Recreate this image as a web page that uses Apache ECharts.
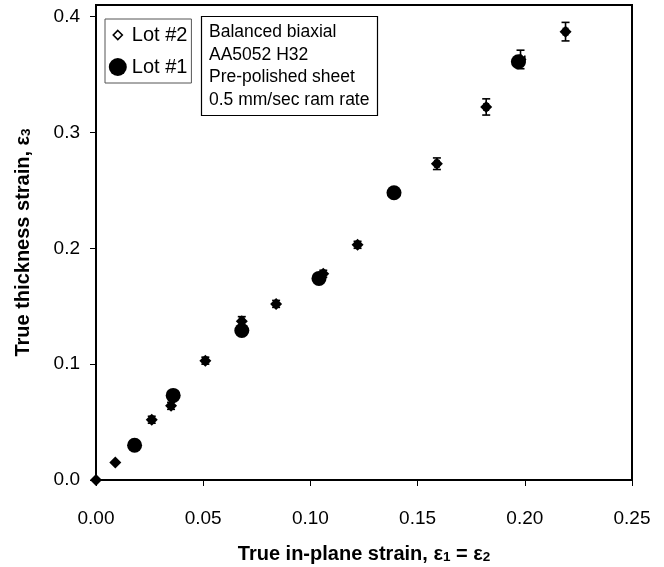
<!DOCTYPE html>
<html>
<head>
<meta charset="utf-8">
<script src="https://cdn.jsdelivr.net/npm/echarts@6/dist/echarts.min.js"></script>
<style>html,body{margin:0;padding:0;background:#fff}#c{width:664px;height:567px}</style>
</head>
<body>
<div id="c"></div>
<script>
// ---- data ----
const lot2X    = [0, 0.009, 0.026, 0.035, 0.051, 0.068, 0.084, 0.106, 0.122, 0.139, 0.159, 0.182, 0.198, 0.219];
const lot2Y    = [0, 0.015, 0.052, 0.064, 0.103, 0.137, 0.152, 0.178, 0.203, 0.248, 0.273, 0.322, 0.363, 0.387];
const lot2YErr = [0, 0, 0.003, 0.003, 0.003, 0.004, 0.003, 0.003, 0.003, 0.003, 0.005, 0.007, 0.008, 0.008];
const lot2XErr = [0, 0, 0.001, 0.001, 0.001, 0.001, 0.001, 0.001, 0.001, 0.002, 0.001, 0.001, 0.002, 0.001];
const lot1X    = [0.018, 0.036, 0.068, 0.104, 0.139, 0.197];
const lot1Y    = [0.030, 0.073, 0.129, 0.174, 0.248, 0.361];
const xTicks   = [0, 0.05, 0.10, 0.15, 0.20, 0.25];
const yTicks   = [0, 0.1, 0.2, 0.3, 0.4];
const noteLines = ['Balanced biaxial', 'AA5052 H32', 'Pre-polished sheet', '0.5 mm/sec ram rate'];

const FONT = '"Liberation Sans", Arial, sans-serif';
const lot2Data = lot2X.map((x, i) => [x, lot2Y[i]]);
const lot1Data = lot1X.map((x, i) => [x, lot1Y[i]]);
const errData = lot2X.map((x, i) => [x, lot2Y[i], lot2YErr[i], lot2XErr[i]]);

const titleRich = {
  a: {fontFamily: FONT, fontSize: 20, fontWeight: 'bold', color: '#000', lineHeight: 26, verticalAlign: 'bottom'},
  s: {fontFamily: FONT, fontSize: 13.5, fontWeight: 'bold', color: '#000', lineHeight: 20, verticalAlign: 'bottom'}
};

const chart = echarts.init(document.getElementById('c'), null, {renderer: 'canvas'});
chart.setOption({
  animation: false,
  backgroundColor: '#fff',
  textStyle: {fontFamily: FONT, color: '#000'},
  grid: {left: 96, right: 32, top: 5, bottom: 87, show: true, borderColor: '#000', borderWidth: 2,
         containLabel: false, outerBoundsMode: 'none'},
  title: {
    text: noteLines.join('\n'),
    left: 201, top: 16,
    borderColor: '#000', borderWidth: 1.2,
    padding: [5, 8, 5, 8],
    textStyle: {fontFamily: FONT, fontSize: 17.5, fontWeight: 'normal', lineHeight: 22.5, color: '#000'}
  },
  legend: {
    left: 105, top: 19, orient: 'vertical',
    borderColor: '#555', borderWidth: 1,
    padding: [6, 4, 6, 3], itemGap: 12,
    itemWidth: 18, itemHeight: 18, itemStyle: {opacity: 1},
    textStyle: {fontFamily: FONT, fontSize: 20, color: '#000'},
    data: [
      {name: 'Lot #2', icon: 'path://M0,0M20,20M10,5L15,10L10,15L5,10Z',
       itemStyle: {color: '#fff', borderColor: '#000', borderWidth: 1.6, opacity: 1}},
      {name: 'Lot #1', icon: 'circle', itemStyle: {color: '#000', opacity: 1}}
    ]
  },
  xAxis: {
    type: 'value', min: 0, max: 0.25, interval: 0.05,
    name: '{a|True in-plane strain, ε}{s|1}{a| = ε}{s|2}',
    nameLocation: 'middle', nameGap: 58,
    nameTextStyle: {rich: titleRich},
    axisLine: {lineStyle: {color: '#000', width: 2}},
    axisTick: {show: true, length: 6, lineStyle: {color: '#000', width: 1}},
    axisLabel: {fontFamily: FONT, fontSize: 19, color: '#000', margin: 29,
      formatter: v => v.toFixed(2)},
    splitLine: {show: false}
  },
  yAxis: {
    type: 'value', min: 0, max: 0.41, interval: 0.1,
    name: '{a|True thickness strain, ε}{s|3}',
    nameLocation: 'middle', nameGap: 63, nameRotate: 90,
    nameTextStyle: {rich: titleRich},
    axisLine: {lineStyle: {color: '#000', width: 2}},
    axisTick: {show: true, length: 6, lineStyle: {color: '#000', width: 1}, customValues: yTicks},
    axisLabel: {fontFamily: FONT, fontSize: 19, color: '#000', margin: 16, customValues: yTicks,
      formatter: v => (Math.abs(v - 0.41) < 1e-6 ? '' : v.toFixed(1))},
    splitLine: {show: false}
  },
  series: [
    {name: 'Lot #2', type: 'scatter', data: lot2Data, symbol: 'diamond', symbolSize: 12,
     itemStyle: {color: '#000', opacity: 1}, z: 3},
    {name: 'Lot #1', type: 'scatter', data: lot1Data, symbol: 'circle', symbolSize: 15,
     itemStyle: {color: '#000', opacity: 1}, z: 4},
    {name: 'err', type: 'custom', data: errData, z: 5,
     renderItem: function (params, api) {
       const x = api.value(0), y = api.value(1), ey = api.value(2), ex = api.value(3);
       const ch = [];
       const st = {stroke: '#000', lineWidth: 1.6};
       const cap = 4;
       if (ey > 0) {
         const t = api.coord([x, y + ey]), b = api.coord([x, y - ey]);
         ch.push({type: 'line', shape: {x1: t[0], y1: t[1], x2: b[0], y2: b[1]}, style: st});
         ch.push({type: 'line', shape: {x1: t[0] - cap, y1: t[1], x2: t[0] + cap, y2: t[1]}, style: st});
         ch.push({type: 'line', shape: {x1: b[0] - cap, y1: b[1], x2: b[0] + cap, y2: b[1]}, style: st});
       }
       if (ex > 0) {
         const l = api.coord([x - ex, y]), r = api.coord([x + ex, y]);
         ch.push({type: 'line', shape: {x1: l[0], y1: l[1], x2: r[0], y2: r[1]}, style: st});
         ch.push({type: 'line', shape: {x1: l[0], y1: l[1] - cap, x2: l[0], y2: l[1] + cap}, style: st});
         ch.push({type: 'line', shape: {x1: r[0], y1: r[1] - cap, x2: r[0], y2: r[1] + cap}, style: st});
       }
       return {type: 'group', children: ch};
     }}
  ]
});
</script>
</body>
</html>
